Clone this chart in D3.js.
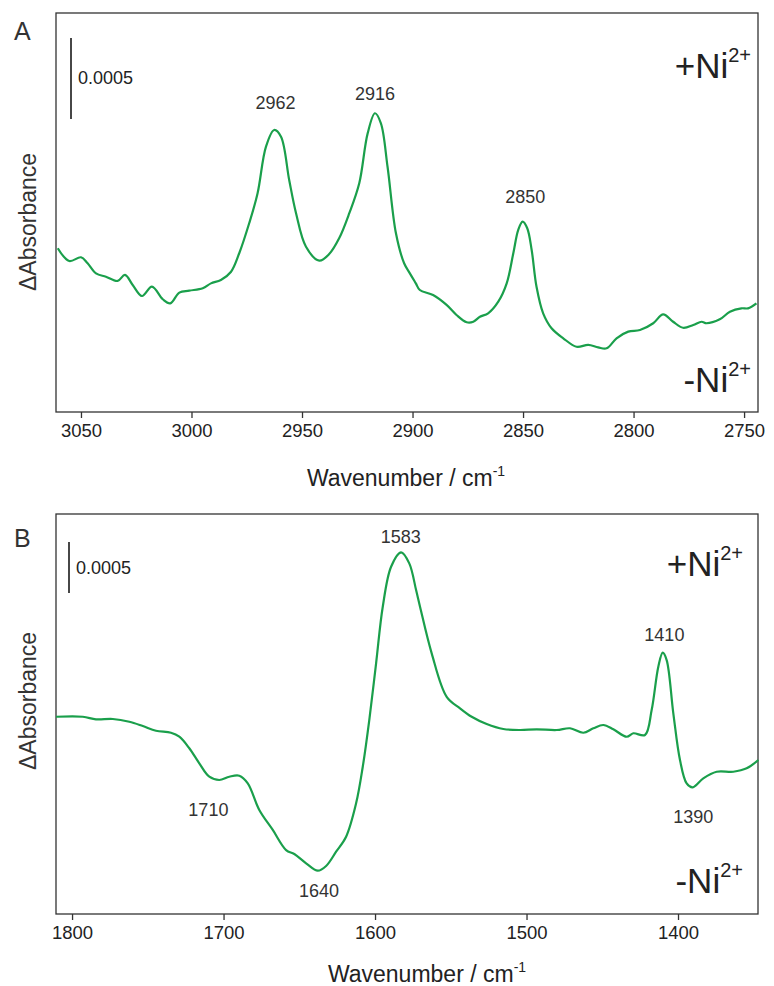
<!DOCTYPE html>
<html>
<head>
<meta charset="utf-8">
<script src="https://cdn.jsdelivr.net/npm/d3@7"></script>
<style>
  html, body { margin: 0; padding: 0; background: #fff; }
  svg { display: block; font-family: "Liberation Sans", Arial, sans-serif; }
</style>
</head>
<body>
<svg id="chart" width="774" height="986"></svg>
<script>
// ---- Panel A data (wavenumber / cm^-1, ΔAbsorbance in 10^-3 units) ----
const waveA = [3060.5,3055.3,3050,3047,3043.2,3038.7,3033.4,3030.1,3026.6,3022.4,3017.9,3013,3009.6,3005.5,3001,2994.9,2991.2,2986.7,2982.1,2978.4,2973.9,2970.1,2966.3,2962.6,2959.5,2955.8,2952.7,2948.2,2942.2,2937.7,2933.2,2928.6,2924.1,2920.3,2917,2914.3,2911.3,2907.5,2903.8,2901.2,2898.5,2896.7,2890.7,2884.6,2880.1,2875.5,2872.5,2869.5,2865.8,2861.2,2857.4,2854.4,2852.2,2850.2,2848.1,2846.1,2843.9,2840.9,2837.1,2831.8,2825.8,2820.5,2816,2812.2,2807.7,2802.4,2797.1,2791.1,2786.6,2782.1,2777.6,2773,2769.2,2767,2761,2756.4,2751.2,2748.2,2744.4];
const absA  = [1.011,0.932,0.955,0.918,0.856,0.835,0.809,0.846,0.784,0.716,0.774,0.696,0.671,0.737,0.749,0.764,0.794,0.815,0.866,0.980,1.165,1.350,1.638,1.741,1.699,1.432,1.227,1.020,0.934,0.975,1.072,1.227,1.412,1.720,1.844,1.782,1.514,1.103,0.918,0.856,0.794,0.753,0.722,0.661,0.599,0.554,0.557,0.588,0.609,0.681,0.794,0.980,1.123,1.175,1.134,1.000,0.773,0.609,0.517,0.455,0.403,0.414,0.399,0.393,0.455,0.496,0.506,0.548,0.603,0.557,0.520,0.537,0.557,0.548,0.572,0.619,0.640,0.640,0.671];
const ticksA = [3050, 3000, 2950, 2900, 2850, 2800, 2750];
const peaksA = ["2962", "2916", "2850"];
const peakXA = [2962, 2917, 2849];
const peakYA = [1.870, 1.926, 1.290];

// ---- Panel B data ----
const waveB = [1810.6,1792.9,1784.2,1773.1,1762.2,1753.3,1744.6,1734.7,1729.2,1722.6,1716,1709.4,1702.8,1696.2,1689.6,1684,1676.4,1667.5,1658.7,1653.3,1645.5,1637.8,1632.3,1625.7,1619.1,1612.5,1608.1,1603.8,1599.3,1594.9,1589.4,1582.8,1577.4,1572.9,1570.3,1562.6,1552.7,1543.9,1536.2,1526.3,1515.3,1504.3,1493.3,1480.1,1471.3,1462.5,1455.9,1449.3,1442.7,1433.9,1429.5,1421.8,1417.4,1413,1410.1,1407.5,1403.1,1398.7,1394.3,1390.3,1383.3,1374.5,1363.5,1354.7,1347];
const absB  = [1.934,1.934,1.909,1.912,1.885,1.843,1.797,1.777,1.738,1.625,1.477,1.346,1.314,1.346,1.356,1.281,1.020,0.824,0.627,0.588,0.497,0.425,0.471,0.611,0.758,1.085,1.444,1.902,2.458,3.013,3.405,3.546,3.438,3.176,3.013,2.556,2.130,2.017,1.934,1.863,1.814,1.804,1.811,1.804,1.821,1.777,1.821,1.853,1.811,1.738,1.772,1.755,2.000,2.425,2.562,2.490,1.968,1.510,1.281,1.242,1.330,1.395,1.395,1.428,1.510];
const ticksB = [1800, 1700, 1600, 1500, 1400];
const peaksB = ["1583", "1410", "1710", "1640", "1390"];
const peakXB = [1583, 1409, 1710, 1637, 1390];
const peakYB = [3.637, 2.676, 0.961, 0.167, 0.892];

const scaleBarValue = 0.5;   // 10^-3 units => 0.0005
const scaleBarLabel = "0.0005";

// ---- Styling ----
const TEXT = "#333";
const GREEN = "#1a9f4b";
const svg = d3.select("#chart");

function panel(cfg) {
  const g = svg.append("g");
  const x = d3.scaleLinear().domain(cfg.xDomain).range([cfg.left, cfg.right]);
  const y = d3.scaleLinear().domain(cfg.yDomain).range([cfg.bottom, cfg.top]);

  // frame
  g.append("rect")
    .attr("x", cfg.left).attr("y", cfg.top)
    .attr("width", cfg.right - cfg.left).attr("height", cfg.bottom - cfg.top)
    .attr("fill", "none").attr("stroke", "#333").attr("stroke-width", 1.3);

  // bottom axis
  const ax = g.append("g").attr("transform", `translate(0,${cfg.bottom})`)
    .call(d3.axisBottom(x).tickValues(cfg.ticks).tickSize(6).tickPadding(6).tickFormat(d3.format("d")));
  ax.select(".domain").remove();
  ax.selectAll(".tick line").attr("stroke", "#333").attr("stroke-width", 1.3);
  ax.selectAll(".tick text").attr("fill", "#222").style("font-size", "18.5px")
    .style("font-family", "'Liberation Sans', Arial, sans-serif");

  // curve
  const line = d3.line().x(d => x(d[0])).y(d => y(d[1])).curve(d3.curveCatmullRom.alpha(0.5));
  const pts = cfg.wave.map((w, i) => [w, cfg.abs[i]]);
  g.append("path").datum(pts).attr("d", line)
    .attr("fill", "none").attr("stroke", GREEN).attr("stroke-width", 2.2)
    .attr("stroke-linejoin", "round");

  // scale bar
  const topVal = cfg.yDomain[1] - cfg.barOffset;
  g.append("line")
    .attr("x1", cfg.barX).attr("x2", cfg.barX)
    .attr("y1", y(topVal)).attr("y2", y(topVal - scaleBarValue))
    .attr("stroke", "#333").attr("stroke-width", 1.8);
  g.append("text").attr("x", cfg.barX + 7).attr("y", (y(topVal) + y(topVal - scaleBarValue)) / 2 + 6)
    .attr("fill", "#222").style("font-size", "18px").text(scaleBarLabel);

  // peak labels
  cfg.peaks.forEach((p, i) => {
    g.append("text").attr("x", x(cfg.peakX[i])).attr("y", y(cfg.peakY[i]))
      .attr("text-anchor", "middle").attr("fill", TEXT).style("font-size", "18px").text(p);
  });

  // +Ni / -Ni
  function ion(sign, yBase) {
    const t = g.append("text").attr("x", cfg.ionRight).attr("y", yBase)
      .attr("text-anchor", "end").attr("fill", "#222").style("font-size", "35px");
    t.append("tspan").text(sign + "Ni");
    t.append("tspan").attr("dy", -16).style("font-size", "20px").text("2+");
  }
  ion("+", cfg.plusY);
  ion("-", cfg.minusY);

  // panel letter
  g.append("text").attr("x", 14).attr("y", cfg.letterY).attr("fill", TEXT)
    .style("font-size", "25px").text(cfg.letter);

  // y title
  g.append("text")
    .attr("transform", `translate(36,${cfg.yTitleY}) rotate(-90)`)
    .attr("text-anchor", "middle").attr("fill", TEXT).style("font-size", "23px")
    .text("\u0394Absorbance");

  // x title
  const xt = g.append("text").attr("x", cfg.xTitleX).attr("y", cfg.xTitleY)
    .attr("text-anchor", "middle").attr("fill", "#222").style("font-size", "23px");
  xt.append("tspan").text("Wavenumber / cm");
  xt.append("tspan").attr("dy", -10).style("font-size", "14px").text("-1");
}

panel({
  left: 56, right: 758, top: 13, bottom: 412,
  xDomain: [3061.3, 2743.7], yDomain: [0, 2.463],
  wave: waveA, abs: absA, ticks: ticksA,
  peaks: peaksA, peakX: peakXA, peakY: peakYA,
  barX: 71, barOffset: 0.154,
  ionRight: 751, plusY: 78, minusY: 392,
  letter: "A", letterY: 40,
  yTitleY: 222, xTitleX: 406, xTitleY: 486
});

panel({
  left: 56, right: 758, top: 514, bottom: 914,
  xDomain: [1810.6, 1347.2], yDomain: [0, 3.922],
  wave: waveB, abs: absB, ticks: ticksB,
  peaks: peaksB, peakX: peakXB, peakY: peakYB,
  barX: 69, barOffset: 0.275,
  ionRight: 743, plusY: 576, minusY: 893,
  letter: "B", letterY: 547,
  yTitleY: 701, xTitleX: 427, xTitleY: 982
});
</script>
</body>
</html>
